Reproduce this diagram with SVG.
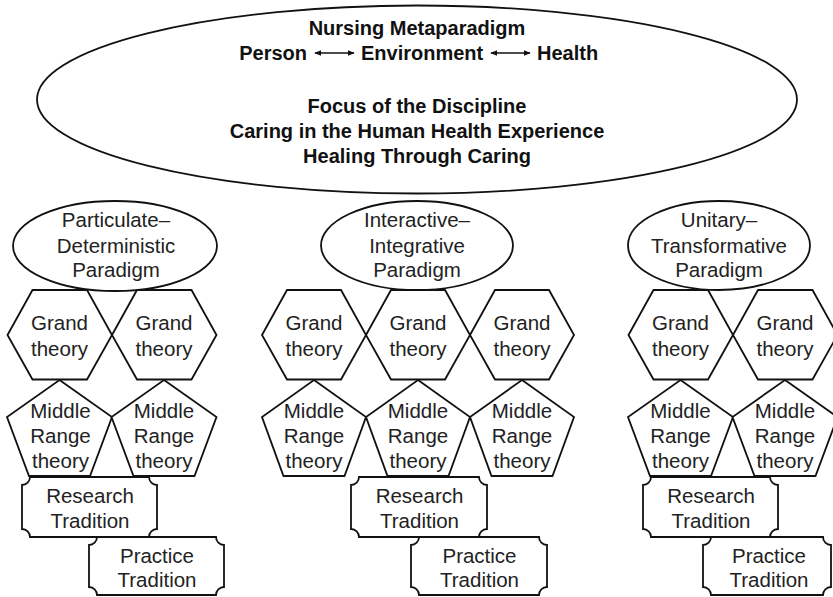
<svg xmlns="http://www.w3.org/2000/svg" width="833" height="597" viewBox="0 0 833 597">
<style>
.s{fill:#fff;stroke:#111;stroke-width:1.8;stroke-linejoin:miter}
.t{font-family:"Liberation Sans",Arial,sans-serif;font-size:20.5px;fill:#222;text-anchor:middle}
.b{font-family:"Liberation Sans",Arial,sans-serif;font-size:20px;font-weight:bold;fill:#111;text-anchor:middle}
.a{stroke:#111;stroke-width:1.6;fill:none}
</style>
<defs>
<marker id="ah" viewBox="0 0 10 10" refX="9" refY="5" markerWidth="7" markerHeight="7" markerUnits="userSpaceOnUse" orient="auto-start-reverse">
<path d="M0,1 L10,5 L0,9 Z" fill="#111"/>
</marker>
</defs>

<g id="metaparadigm">
<ellipse class="s" cx="417" cy="99.5" rx="380" ry="94"/>
<text class="b" x="417" y="35">Nursing Metaparadigm</text>
<text class="b" x="307" y="60" style="text-anchor:end">Person</text>
<text class="b" x="361" y="60" style="text-anchor:start">Environment</text>
<text class="b" x="537" y="60" style="text-anchor:start">Health</text>
<text class="b" x="417" y="113">Focus of the Discipline</text>
<text class="b" x="417" y="138">Caring in the Human Health Experience</text>
<text class="b" x="417" y="163">Healing Through Caring</text>
</g>

<g id="connectors">
<line class="a" x1="315" y1="53" x2="354" y2="53" marker-start="url(#ah)" marker-end="url(#ah)"/>
<line class="a" x1="491" y1="53" x2="530" y2="53" marker-start="url(#ah)" marker-end="url(#ah)"/>
</g>

<!-- Paradigms -->
<g id="paradigm-particulate">
<ellipse class="s" cx="115" cy="246" rx="102" ry="45"/>
<text class="t" x="116" y="227">Particulate–</text>
<text class="t" x="116" y="253">Deterministic</text>
<text class="t" x="116" y="277">Paradigm</text>
</g>
<g id="paradigm-interactive">
<ellipse class="s" cx="417" cy="245.5" rx="96" ry="44.5"/>
<text class="t" x="417" y="227">Interactive–</text>
<text class="t" x="417" y="253">Integrative</text>
<text class="t" x="417" y="277">Paradigm</text>
</g>
<g id="paradigm-unitary">
<ellipse class="s" cx="719" cy="245.5" rx="91" ry="44.5"/>
<text class="t" x="719" y="227">Unitary–</text>
<text class="t" x="719" y="253">Transformative</text>
<text class="t" x="719" y="277">Paradigm</text>
</g>

<!-- Left group -->
<g id="grand-l1">
<polygon class="s" points="7.5,335 32.5,290 87,290 112,335 87,379.5 32.5,379.5"/>
<text class="t" x="59.5" y="330">Grand</text><text class="t" x="59.5" y="356">theory</text>
</g>
<g id="grand-l2">
<polygon class="s" points="112,335 137,290 191.5,290 216.5,335 191.5,379.5 137,379.5"/>
<text class="t" x="164" y="330">Grand</text><text class="t" x="164" y="356">theory</text>
</g>
<g id="middle-l1">
<polygon class="s" points="59.5,380 112,417 90,476 29,476 7,417"/>
<text class="t" x="60.5" y="418">Middle</text><text class="t" x="60.5" y="443">Range</text><text class="t" x="60.5" y="467.5">theory</text>
</g>
<g id="middle-l2">
<polygon class="s" points="164,380 216.5,417 194.5,476 133.5,476 111.5,417"/>
<text class="t" x="164" y="418">Middle</text><text class="t" x="164" y="443">Range</text><text class="t" x="164" y="467.5">theory</text>
</g>

<!-- Center group -->
<g id="grand-c1">
<polygon class="s" points="262,335 287,290 341,290 366,335 341,379.5 287,379.5"/>
<text class="t" x="314" y="330">Grand</text><text class="t" x="314" y="356">theory</text>
</g>
<g id="grand-c2">
<polygon class="s" points="366,335 391,290 445,290 470,335 445,379.5 391,379.5"/>
<text class="t" x="418" y="330">Grand</text><text class="t" x="418" y="356">theory</text>
</g>
<g id="grand-c3">
<polygon class="s" points="470,335 495,290 549,290 574,335 549,379.5 495,379.5"/>
<text class="t" x="522" y="330">Grand</text><text class="t" x="522" y="356">theory</text>
</g>
<g id="middle-c1">
<polygon class="s" points="314,380 366,417 344.5,476 283.5,476 262,417"/>
<text class="t" x="314" y="418">Middle</text><text class="t" x="314" y="443">Range</text><text class="t" x="314" y="467.5">theory</text>
</g>
<g id="middle-c2">
<polygon class="s" points="418,380 470,417 448.5,476 387.5,476 366,417"/>
<text class="t" x="418" y="418">Middle</text><text class="t" x="418" y="443">Range</text><text class="t" x="418" y="467.5">theory</text>
</g>
<g id="middle-c3">
<polygon class="s" points="522,380 574,417 552.5,476 491.5,476 470,417"/>
<text class="t" x="522" y="418">Middle</text><text class="t" x="522" y="443">Range</text><text class="t" x="522" y="467.5">theory</text>
</g>

<!-- Right group -->
<g id="grand-r1">
<polygon class="s" points="628.5,335 653.5,290 708,290 733,335 708,379.5 653.5,379.5"/>
<text class="t" x="680.5" y="330">Grand</text><text class="t" x="680.5" y="356">theory</text>
</g>
<g id="grand-r2">
<polygon class="s" points="733,335 758,290 812.5,290 837.5,335 812.5,379.5 758,379.5"/>
<text class="t" x="785" y="330">Grand</text><text class="t" x="785" y="356">theory</text>
</g>
<g id="middle-r1">
<polygon class="s" points="680.5,380 733,417 711,476 650,476 628,417"/>
<text class="t" x="680.5" y="418">Middle</text><text class="t" x="680.5" y="443">Range</text><text class="t" x="680.5" y="467.5">theory</text>
</g>
<g id="middle-r2">
<polygon class="s" points="785,380 837.5,417 815.5,476 754.5,476 732.5,417"/>
<text class="t" x="785" y="418">Middle</text><text class="t" x="785" y="443">Range</text><text class="t" x="785" y="467.5">theory</text>
</g>

<!-- Traditions -->
<g id="research-l">
<path class="s" d="M30,477 H149 A8 8 0 0 0 157,485 V529 A8 8 0 0 0 149,537 H30 A8 8 0 0 0 22,529 V485 A8 8 0 0 0 30,477 Z"/>
<text class="t" x="90" y="503">Research</text><text class="t" x="90" y="528">Tradition</text>
</g>
<g id="practice-l">
<path class="s" d="M97,537 H216 A8 8 0 0 0 224,545 V587 A8 8 0 0 0 216,595 H97 A8 8 0 0 0 89,587 V545 A8 8 0 0 0 97,537 Z"/>
<text class="t" x="157" y="563">Practice</text><text class="t" x="157" y="587">Tradition</text>
</g>
<g id="research-c">
<path class="s" d="M359,477 H479 A8 8 0 0 0 487,485 V529 A8 8 0 0 0 479,537 H359 A8 8 0 0 0 351,529 V485 A8 8 0 0 0 359,477 Z"/>
<text class="t" x="419.5" y="503">Research</text><text class="t" x="419.5" y="528">Tradition</text>
</g>
<g id="practice-c">
<path class="s" d="M419,537 H539 A8 8 0 0 0 547,545 V587 A8 8 0 0 0 539,595 H419 A8 8 0 0 0 411,587 V545 A8 8 0 0 0 419,537 Z"/>
<text class="t" x="479.5" y="563">Practice</text><text class="t" x="479.5" y="587">Tradition</text>
</g>
<g id="research-r">
<path class="s" d="M651,477 H770 A8 8 0 0 0 778,485 V529 A8 8 0 0 0 770,537 H651 A8 8 0 0 0 643,529 V485 A8 8 0 0 0 651,477 Z"/>
<text class="t" x="711" y="503">Research</text><text class="t" x="711" y="528">Tradition</text>
</g>
<g id="practice-r">
<path class="s" d="M711,537 H823 A8 8 0 0 0 831,545 V587 A8 8 0 0 0 823,595 H711 A8 8 0 0 0 703,587 V545 A8 8 0 0 0 711,537 Z"/>
<text class="t" x="769" y="563">Practice</text><text class="t" x="769" y="587">Tradition</text>
</g>
</svg>
